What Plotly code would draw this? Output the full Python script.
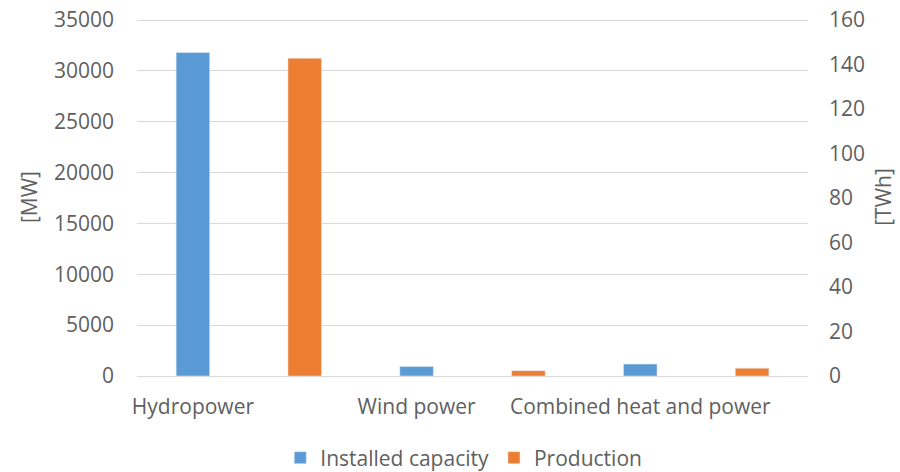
import plotly.graph_objects as go

categories = ["Hydropower", "Wind power", "Combined heat and power"]
installed_capacity_mw = [31800, 930, 1170]
production_twh = [142.8, 2.4, 3.5]
left_ticks = [0, 5000, 10000, 15000, 20000, 25000, 30000, 35000]
right_ticks = [0, 20, 40, 60, 80, 100, 120, 140, 160]

# each category has two slots: capacity slot, then production slot
cap_x = [2 * i for i in range(len(categories))]
prod_x = [2 * i + 1 for i in range(len(categories))]

FONT = "Open Sans"
GRAY = "#5f5f5f"
FS = 21

# plot area: top gridline 2px below the plot top so plotly keeps it
T, B = 18, 96
PLOT_H = 472 - T - B
HEAD = PLOT_H / (PLOT_H - 2)

fig = go.Figure()
fig.add_trace(go.Bar(x=cap_x, y=installed_capacity_mw, name="Installed capacity",
                     marker_color="#5B9BD5", width=0.3, yaxis="y"))
fig.add_trace(go.Bar(x=prod_x, y=production_twh, name="Production",
                     marker_color="#ED7D31", width=0.3, yaxis="y2"))

fig.update_layout(
    width=900, height=472,
    margin=dict(l=137, r=92, t=T, b=B, autoexpand=False),
    paper_bgcolor="white", plot_bgcolor="white",
    font=dict(family=FONT, size=FS, color=GRAY),
    barmode="overlay",
    showlegend=True,
    legend=dict(orientation="h", x=0.487, xanchor="center", y=-82 / PLOT_H,
                yanchor="middle",
                font=dict(size=FS, color=GRAY), itemclick=False, itemwidth=30,
                tracegroupgap=0),
    xaxis=dict(range=[-0.5, 5.5], tickvals=cap_x, ticktext=categories,
               showgrid=False, zeroline=False, showline=True, linecolor="#d9d9d9",
               linewidth=1, ticks="", ticklabelstandoff=12),
    yaxis=dict(range=[0, left_ticks[-1] * HEAD], tickvals=left_ticks,
               ticktext=[str(v) for v in left_ticks],
               showgrid=True, gridcolor="#d9d9d9",
               zeroline=False, showline=False, ticks="", ticklabelstandoff=22,
               title=dict(text="[MW]", standoff=10, font=dict(size=FS, color=GRAY))),
    yaxis2=dict(range=[0, right_ticks[-1] * HEAD], tickvals=right_ticks,
                ticktext=[str(v) for v in right_ticks],
                overlaying="y", side="right",
                showgrid=False, zeroline=False, showline=False, ticks="",
                ticklabelstandoff=20,
                title=dict(text="[TWh]", standoff=12, font=dict(size=FS, color=GRAY))),
)

# remove the browser's default 8px body margin so the figure fills the window
fig.write_html("out.html", config={"displayModeBar": False},
               post_script="document.body.style.margin='0px';")
